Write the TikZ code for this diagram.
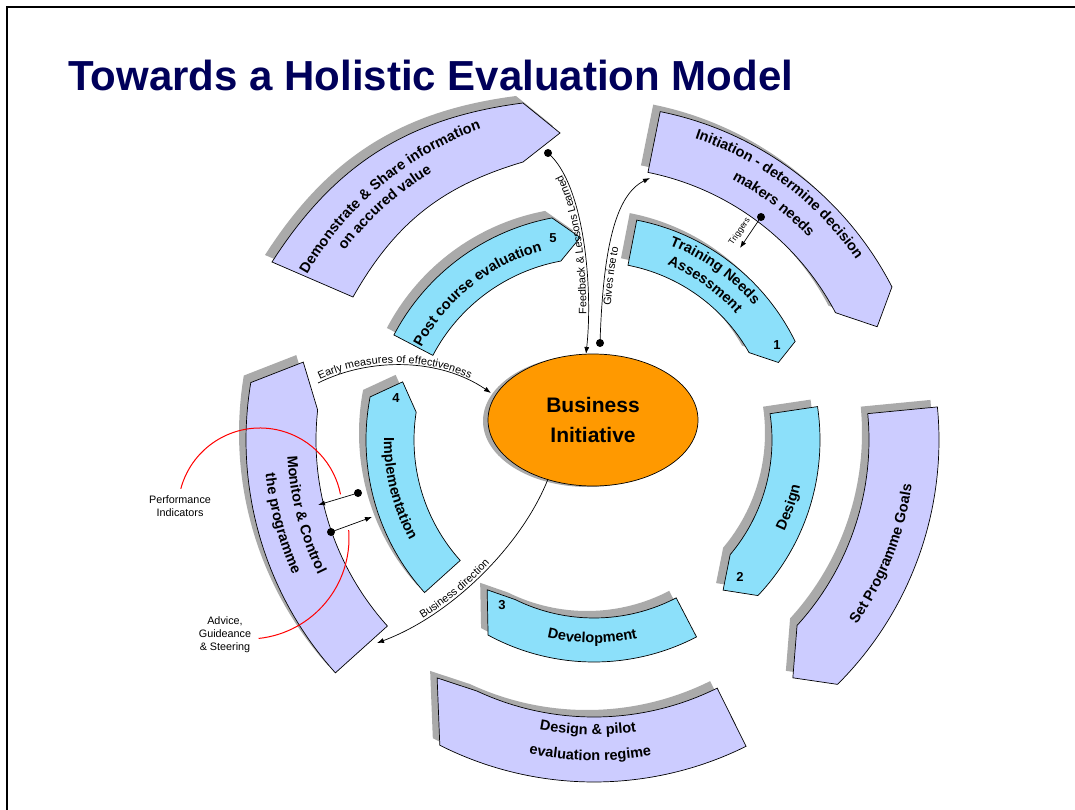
\documentclass[tikz,border=0pt]{standalone}
\usepackage{fontspec}
\setmainfont{Liberation Sans}
\usetikzlibrary{shapes.geometric, decorations.text, arrows.meta}

\definecolor{stagecyan}{RGB}{140,224,250}
\definecolor{goallilac}{RGB}{204,204,255}
\definecolor{shadegray}{RGB}{170,170,170}
\definecolor{bizorange}{RGB}{255,153,0}
\definecolor{titlenavy}{RGB}{0,0,90}

\newcommand{\segfont}{\bfseries\fontsize{14.5}{17}\selectfont}
\newcommand{\linkfont}{\fontsize{10.8}{13}\selectfont}
\newcommand{\trigfont}{\fontsize{8.5}{10}\selectfont}

% ring piece: style, r in, r out, tail, head in, head out, tip angle, tip r
\newcommand{\ringpiece}[8]{%
  \fill[shadegray, xshift = -7pt, yshift = 7pt] (#4:#3) arc[start angle = #4, end angle = #6, radius = #3] -- (#7:#8) -- (#5:#2) arc[start angle = #5, end angle = #4, radius = #2] -- cycle;
  \draw[#1] (#4:#3) arc[start angle = #4, end angle = #6, radius = #3] -- (#7:#8) -- (#5:#2) arc[start angle = #5, end angle = #4, radius = #2] -- cycle;
}
% curved label: radius, from, to, text
\newcommand{\ringtext}[4]{%
  \path[decorate, decoration = {text along path, text align = center, text = {|\segfont|#4}}] (#2:#1) arc[start angle = #2, end angle = #3, radius = #1];
}

\begin{document}
\begin{tikzpicture}[x = 1pt, y = 1pt,
    stage/.style = {draw = black, line width = 0.7pt, fill = stagecyan},
    goal/.style = {draw = black, line width = 0.7pt, fill = goallilac},
    link/.style = {line width = 0.7pt, -{Latex[length = 7pt, width = 5pt]}},
    dot/.style = {circle, fill = black, inner sep = 0pt, minimum size = 8pt},
    num/.style = {font = \bfseries\fontsize{13}{15}\selectfont},
    side/.style = {font = \fontsize{10.8}{13}\selectfont, align = center},
    redarc/.style = {red, line width = 1pt}]

    \useasboundingbox (0,0) rectangle (1075,-810);
    \fill[white] (0,0) rectangle (1075,-810);
    \draw[line width = 1.2pt] (7,-810) -- (7,-7) -- (1075,-7);

    \node[anchor = base west, inner sep = 0pt, text = titlenavy, font = \bfseries\fontsize{42}{48}\selectfont] (title) at (68,-91) {Towards a Holistic Evaluation Model};

    % share piece, widening towards its tail
    \fill[shadegray, xshift = -7pt, yshift = 7pt] (272,-262) to[bend left = 25] (523,-103) -- (560,-133) -- (523,-162) to[bend right = 22] (353,-297) -- cycle;
    \draw[goal] (272,-262) to[bend left = 25] (523,-103) -- (560,-133) -- (523,-162) to[bend right = 22] (353,-297) -- cycle;

    \begin{scope}[shift = {(594,-440)}]
    \ringpiece{goal}{273}{335}{78.6}{27.8}{27.2}{21.8}{305}
    \ringpiece{goal}{275}{345}{5.5}{-42.4}{-45.1}{-50.1}{310}
    \ringpiece{goal}{277}{342}{-63.6}{-115}{-116.8}{-123.4}{285}
    \ringpiece{goal}{278}{348}{222}{173.8}{170.5}{165}{301}
    \ringpiece{stage}{178}{224}{79}{29.4}{26.1}{22.8}{200}
    \ringpiece{stage}{178}{226}{8.5}{-40.1}{-43.5}{-49.3}{198}
    \ringpiece{stage}{178}{222}{-62.5}{-116.3}{-118.5}{-125.5}{184}
    \ringpiece{stage}{180}{228}{222}{171.1}{169.1}{163.1}{200}
    \ringpiece{stage}{182}{226}{152.3}{100.5}{100.7}{93.9}{203}

    \ringtext{331}{170}{90}{Demonstrate {\&} Share information}
    \ringtext{313}{172}{92}{on accured value}
    \ringtext{318}{93}{13}{Initiation - determine decision}
    \ringtext{295}{93}{12.4}{makers needs}
    \ringtext{321}{-60}{16.8}{Set Programme Goals}
    \ringtext{294.5}{-130}{-52.4}{Design {\&} pilot}
    \ringtext{320.5}{-130}{-51.4}{evaluation regime}
    \ringtext{307}{160}{229}{Monitor {\&} Control}
    \ringtext{330}{160}{230}{the programme}

    \ringtext{196}{165}{92}{Post course evaluation}
    \ringtext{209}{95}{14}{Training Needs}
    \ringtext{190}{95}{14}{Assessment}
    \ringtext{211}{-55}{17}{Design}
    \ringtext{203}{-130}{-51}{Development}
    \ringtext{210}{164}{224}{Implementation}
    \end{scope}

    \node[num] (n1) at (777,-345) {1};
    \node[num] (n2) at (740,-577) {2};
    \node[num] (n3) at (502,-605) {3};
    \node[num] (n4) at (396,-398) {4};
    \node[num] (n5) at (553,-238) {5};

    \fill[shadegray] (588,-421) ellipse[x radius = 105, y radius = 66];
    \node[ellipse, draw = black, line width = 0.7pt, fill = bizorange, minimum width = 210pt, minimum height = 132pt, inner sep = 0pt, align = center, font = \bfseries\fontsize{21}{30}\selectfont] (bi) at (593,-420) {Business\\Initiative};

    \node[dot] (fbdot) at (548,-153) {};
    \coordinate (fbend) at (586,-354);
    \draw[link] (fbdot.center) .. controls (585,-185) and (593,-290) .. (fbend);
    \path[decorate, decoration = {text along path, raise = 2pt, text align = {left indent = 40pt}, text = {|\linkfont|Feedback {\&} Lessons Learned}}] (fbend) .. controls (593,-290) and (585,-185) .. (fbdot.center);

    \node[dot] (grdot) at (600,-343) {};
    \coordinate (grend) at (650,-178);
    \draw[link] (grdot.center) .. controls (603,-250) and (615,-195) .. (grend);
    \path[decorate, decoration = {text along path, raise = -9pt, text align = {left indent = 38pt}, text = {|\linkfont|Gives rise to}}] (grdot.center) .. controls (603,-250) and (615,-195) .. (grend);

    \node[dot] (trdot) at (761,-217) {};
    \coordinate (trend) at (740,-248);
    \draw[link] (trdot.center) -- (trend);
    \path[decorate, decoration = {text along path, raise = 6pt, text align = center, text = {|\trigfont|Triggers}}] (729,-262) -- (764,-211);

    \coordinate (emstart) at (318,-383);
    \coordinate (emend) at (491,-393);
    \draw[link] (emstart) .. controls (370,-357) and (440,-358) .. (emend);
    \path[decorate, decoration = {text along path, raise = 2pt, text align = {left indent = 3pt}, text = {|\linkfont|Early measures of effectiveness}}] (emstart) .. controls (370,-357) and (440,-358) .. (emend);

    \coordinate (bdstart) at (548,-479);
    \coordinate (bdend) at (377,-643);
    \draw[link] (bdstart) .. controls (522,-545) and (452,-615) .. (bdend);
    \path[decorate, decoration = {text along path, raise = 2pt, text align = {left indent = 52pt}, text = {|\linkfont|Business direction}}] (bdend) .. controls (452,-615) and (522,-545) .. (bdstart);

    \node[dot] (pidot) at (358,-493) {};
    \coordinate (piend) at (318,-505);
    \draw[link] (pidot.center) -- (piend);
    \node[dot] (agdot) at (331,-532) {};
    \coordinate (agend) at (372,-517);
    \draw[link] (agdot.center) -- (agend);

    \draw[redarc] (260,-510) ++(165:82) arc[start angle = 165, end angle = 11, radius = 82];
    \draw[redarc] (248,-538) ++(4.5:101) arc[start angle = 4.5, end angle = -84, radius = 101];

    \node[side] (perf) at (180,-506) {Performance\\Indicators};
    \node[side] (advice) at (225,-635) {Advice,\\Guideance\\\& Steering};
\end{tikzpicture}
\end{document}
